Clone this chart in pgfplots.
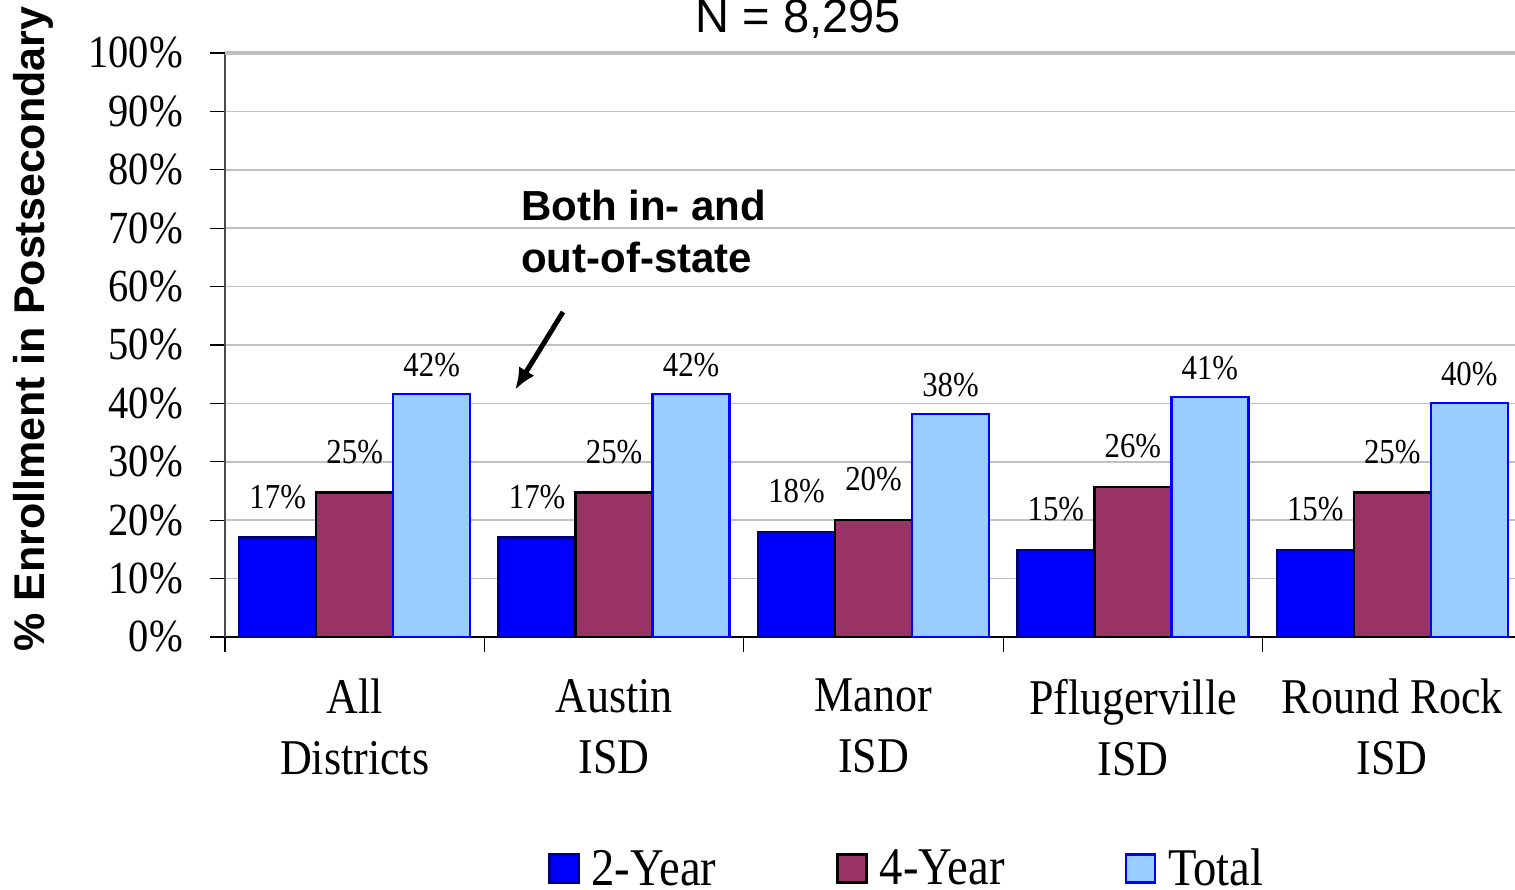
\documentclass[border=0pt]{standalone}
\usepackage{fontspec}
\setmainfont{Liberation Serif}[FakeStretch=0.88]
\newfontfamily\arialf{Liberation Sans}
\usepackage{pgfplots}
\pgfplotsset{compat=1.18}
\usetikzlibrary{arrows.meta}
\definecolor{c2}{HTML}{0000FF}
\definecolor{c2b}{HTML}{000080}
\definecolor{c4}{HTML}{993366}
\definecolor{ct}{HTML}{99CCFF}
\definecolor{gridc}{HTML}{C0C0C0}
\pgfplotsset{sqleg/.style={legend image code/.code={\draw[##1, line width=2.5pt] (0pt,-14pt) rectangle (29pt,14pt);}}}
\begin{document}
\begin{tikzpicture}
\begin{axis}[
  at={(225pt,253pt)}, anchor=south west,
  scale only axis, width=1297pt, height=584pt,
  clip=false,
  ybar=0pt, bar width=77pt,
  xmin=-0.5, xmax=4.5, ymin=0, ymax=100,
  axis x line*=bottom, axis y line*=left,
  x axis line style={-, black, line width=2pt},
  y axis line style={-, black!70, line width=1.2pt},
  tick align=outside,
  xtick={0,...,4},
  xticklabels={{All\\Districts},{Austin\\ISD},{Manor\\ISD},{Pflugerville\\ISD},{Round Rock\\ISD}},
  every major x tick/.append style={draw=none},
  minor xtick={-0.5,0.5,...,4.5},
  minor tick length=15pt,
  every minor x tick/.append style={black, line width=1.2pt},
  xticklabel style={font=\fontsize{50}{61}\selectfont, align=center, anchor=north, inner sep=0pt, yshift=-27pt},
  ytick={0,10,...,100},
  major tick length=15pt,
  every major y tick/.append style={black, line width=1.2pt},
  yticklabel={\pgfmathprintnumber{\tick}\%},
  yticklabel style={font=\fontsize{46}{46}\selectfont, anchor=east, inner sep=0pt, xshift=-27pt},
  ymajorgrids, grid style={gridc, line width=1.5pt},
  extra y ticks={100}, extra y tick labels={},
  extra y tick style={grid style={gridc, line width=3.5pt}},
  /pgf/number format/assume math mode=true,
  ylabel={\% Enrollment in Postsecondary},
  every axis y label/.style={at={(axis description cs:-0.148,0.527)}, rotate=90, anchor=center, font=\arialf\bfseries\fontsize{43}{43}\selectfont},
  title={N = 8,295},
  every axis title/.style={at={(axis description cs:0.442,1.058)}, anchor=center, font=\arialf\fontsize{47}{47}\selectfont},
  nodes near coords={\pgfmathprintnumber[fixed,precision=0]{\pgfplotspointmeta}\%},
  every node near coord/.append style={font=\fontsize{35}{35}\selectfont, anchor=south, inner sep=0pt, black},
  legend columns=3,
  legend style={draw=none, fill=none, at={(axis description cs:0.249,-0.396)}, anchor=west, inner sep=0pt,
    font=\fontsize{53}{53}\selectfont, cells={anchor=west},
    nodes={inner sep=0pt},
    /tikz/every odd column/.append style={column sep=12pt},
    /tikz/every even column/.append style={column sep=120pt}},
]
\addplot[fill=c2, draw=c2b, line width=2.5pt, every node near coord/.append style={yshift=28pt}, sqleg]
  coordinates {(0,17) (1,17) (2,18) (3,14.9) (4,14.9)};
\addplot[fill=c4, draw=black, line width=2.5pt, every node near coord/.append style={yshift=28pt}, sqleg]
  coordinates {(0,24.7) (1,24.7) (2,20) (3,25.7) (4,24.7)};
\addplot[fill=ct, draw=c2, line width=2.5pt, every node near coord/.append style={yshift=16pt}, sqleg]
  coordinates {(0,41.6) (1,41.6) (2,38.2) (3,41.1) (4,40.1)};
\legend{2-Year, 4-Year, Total}
\node[anchor=north west, align=left, inner sep=0pt, font=\arialf\bfseries\fontsize{42}{52}\selectfont]
  at (axis cs:0.641,76.5) {Both in- and\\out-of-state};
\draw[line width=5pt, -{Latex[length=22pt,width=18pt]}] (axis cs:0.803,55.65) -- (axis cs:0.618,42.3);
\end{axis}
\pgfresetboundingbox
\useasboundingbox (0,0) rectangle (1515pt,890pt);
\end{tikzpicture}
\end{document}
